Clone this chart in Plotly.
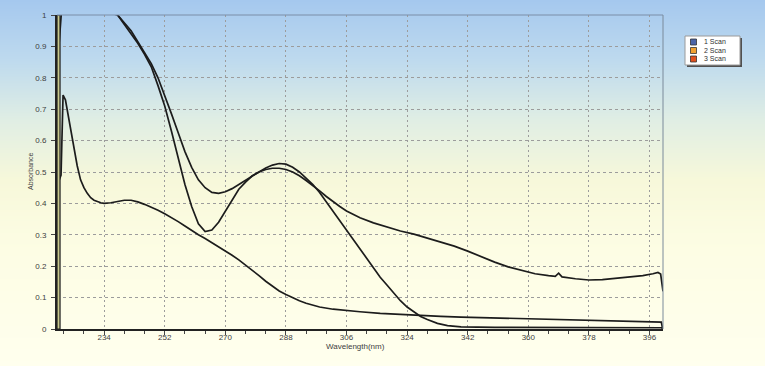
import base64
import struct
import zlib

import numpy as np
import plotly.graph_objects as go

# ---------------- data ----------------
scan_names = ["1 Scan", "2 Scan", "3 Scan"]
legend_colors = ["#4a64a8", "#f0a030", "#e0501e"]

wl_scan1 = [220.0, 220.1, 236, 238, 240, 242, 244, 246, 248, 250, 252, 254, 256, 258, 260,
            262, 264, 266, 268, 270, 272, 274, 276, 278, 280, 282, 284, 286, 288, 290,
            292, 294, 296, 298, 300, 302, 304, 306, 308, 310, 312, 314, 316, 318, 320,
            322, 324, 326, 328, 330, 333, 336, 340, 350, 360, 370, 380, 390, 399.6, 400]
abs_scan1 = [0.0, 1.05, 1.03, 1.0, 0.97, 0.94, 0.91, 0.875, 0.835, 0.775, 0.71, 0.63, 0.54, 0.46, 0.39,
             0.335, 0.31, 0.315, 0.34, 0.375, 0.41, 0.445, 0.468, 0.488, 0.5, 0.513, 0.522, 0.527, 0.525, 0.515,
             0.5, 0.48, 0.46, 0.435, 0.405, 0.375, 0.345, 0.315, 0.285, 0.255, 0.225, 0.195, 0.165, 0.14, 0.115,
             0.09, 0.07, 0.055, 0.04, 0.03, 0.018, 0.011, 0.007, 0.005, 0.005, 0.006, 0.005, 0.005, 0.004, 0.0]

wl_scan2 = [220.2, 221.3, 221.6, 238, 240, 242, 244, 246, 248, 250, 252, 254, 256, 258, 260,
            262, 264, 266, 268, 270, 272, 274, 276, 278, 280, 282, 284, 286, 288, 290,
            292, 294, 296, 298, 300, 302, 304, 306, 308, 310, 314, 318, 322, 326, 330,
            334, 338, 342, 346, 350, 354, 358, 362, 366, 368, 369, 370, 374, 378, 382,
            386, 390, 394, 397, 398.5, 399.3, 400]
abs_scan2 = [0.85, 1.0, 1.05, 1.0, 0.975, 0.95, 0.915, 0.88, 0.845, 0.8, 0.745, 0.685, 0.625, 0.565, 0.515,
             0.475, 0.45, 0.435, 0.432, 0.437, 0.447, 0.46, 0.475, 0.488, 0.5, 0.508, 0.512, 0.512, 0.508, 0.5,
             0.488, 0.473, 0.457, 0.44, 0.422, 0.405, 0.39, 0.376, 0.364, 0.354, 0.338, 0.325, 0.312, 0.302, 0.29,
             0.278, 0.264, 0.248, 0.23, 0.213, 0.198, 0.186, 0.176, 0.17, 0.168, 0.178, 0.166, 0.16, 0.156, 0.157,
             0.161, 0.165, 0.17, 0.176, 0.18, 0.175, 0.12]

wl_scan3 = [220.0, 220.5, 221.2, 221.8, 222.5, 223, 224, 225, 226, 227, 228, 229, 230, 231, 232,
            233, 234, 235, 236, 238, 240, 242, 244, 246, 248, 250, 252, 254, 256, 258,
            260, 262, 264, 266, 268, 270, 272, 274, 276, 278, 280, 282, 284, 286, 288,
            290, 292, 294, 296, 298, 302, 306, 310, 316, 322, 328, 334, 340, 350, 360,
            370, 380, 390, 398, 399.5, 399.9]
abs_scan3 = [0.0, 0.47, 0.49, 0.745, 0.73, 0.70, 0.64, 0.58, 0.52, 0.475, 0.45, 0.432, 0.418, 0.41, 0.405,
             0.402, 0.4, 0.4, 0.402, 0.406, 0.41, 0.41, 0.405, 0.397, 0.388, 0.378, 0.367, 0.355, 0.342, 0.328,
             0.313, 0.3, 0.288, 0.275, 0.262, 0.248, 0.235, 0.22, 0.204, 0.187, 0.17, 0.152, 0.136, 0.121, 0.11,
             0.099, 0.09, 0.082, 0.075, 0.07, 0.063, 0.058, 0.055, 0.05, 0.046, 0.043, 0.04, 0.038, 0.035, 0.033,
             0.03, 0.028, 0.025, 0.023, 0.022, 0.0]

x_tickvals = [234, 252, 270, 288, 306, 324, 342, 360, 378, 396]
y_tickvals = [0, 0.1, 0.2, 0.3, 0.4, 0.5, 0.6, 0.7, 0.8, 0.9, 1]
y_ticktext = ["0", "0.1", "0.2", "0.3", "0.4", "0.5", "0.6", "0.7", "0.8", "0.9", "1"]
x_range = [220, 400]
y_range = [0, 1]

# ---------------- layout geometry ----------------
W, H = 765, 366
ML, MR, MT, MB = 57, 102, 15, 37
PW, PH = W - ML - MR, H - MT - MB


def px_x(px):
    return (px - ML) / PW


def px_y(py):
    return (H - MB - py) / PH


# ---------------- gradient background image ----------------
def gradient_png(height, stops):
    ys = [s[0] for s in stops]
    rows = []
    for y in range(height):
        r = int(round(np.interp(y, ys, [s[1][0] for s in stops])))
        g = int(round(np.interp(y, ys, [s[1][1] for s in stops])))
        b = int(round(np.interp(y, ys, [s[1][2] for s in stops])))
        rows.append(b"\x00" + bytes([r, g, b]) * 4)
    raw = b"".join(rows)

    def chunk(tag, data):
        return (struct.pack(">I", len(data)) + tag + data
                + struct.pack(">I", zlib.crc32(tag + data) & 0xFFFFFFFF))

    png = (b"\x89PNG\r\n\x1a\n"
           + chunk(b"IHDR", struct.pack(">IIBBBBB", 4, height, 8, 2, 0, 0, 0))
           + chunk(b"IDAT", zlib.compress(raw, 9))
           + chunk(b"IEND", b""))
    return "data:image/png;base64," + base64.b64encode(png).decode()


bg_stops = [(0, (165, 200, 238)), (60, (190, 218, 238)), (120, (224, 238, 228)),
            (180, (247, 248, 218)), (250, (253, 253, 228)), (366, (255, 255, 238))]
bg_uri = gradient_png(H, bg_stops)

# ---------------- figure ----------------
fig = go.Figure()
line_color = "#1c1c1c"
for name, xs, ys in [(scan_names[0], wl_scan1, abs_scan1),
                     (scan_names[1], wl_scan2, abs_scan2),
                     (scan_names[2], wl_scan3, abs_scan3)]:
    fig.add_trace(go.Scatter(x=xs, y=ys, mode="lines", name=name, showlegend=False,
                             line=dict(color=line_color, width=1.7), hoverinfo="skip"))

font_family = "Liberation Sans, Arial, sans-serif"
grid_color = "#9c9c9c"

fig.update_layout(
    width=W, height=H,
    margin=dict(l=ML, r=MR, t=MT, b=MB),
    paper_bgcolor="rgba(0,0,0,0)",
    plot_bgcolor="rgba(0,0,0,0)",
    font=dict(family=font_family, size=8, color="#404040"),
    showlegend=False,
    images=[dict(source=bg_uri, xref="paper", yref="paper",
                 x=-ML / PW, y=1 + MT / PH, sizex=W / PW, sizey=H / PH,
                 xanchor="left", yanchor="top", sizing="stretch", layer="below")],
    xaxis=dict(range=x_range, tickvals=x_tickvals, showgrid=True, gridcolor=grid_color,
               griddash="2px,3px", gridwidth=1, zeroline=False,
               showline=True, linecolor="#222222", linewidth=2,
               ticks="outside", ticklen=4, tickcolor="#444444",
               ticklabelstandoff=-5,
               tickfont=dict(size=8, color="#404040"),
               minor=dict(dtick=6, tick0=234, ticks="outside", ticklen=3,
                          tickcolor="#444444", showgrid=False)),
    yaxis=dict(range=y_range, tickvals=y_tickvals, ticktext=y_ticktext, showgrid=True,
               gridcolor=grid_color, griddash="3px,3px", gridwidth=1, zeroline=False,
               showline=True, linecolor="#222222", linewidth=2,
               ticks="outside", ticklen=4, tickcolor="#444444",
               ticklabelstandoff=3,
               tickfont=dict(size=8, color="#404040")),
)

shapes = []
# olive strip at left edge
shapes.append(dict(type="rect", xref="x", yref="y", x0=x_range[0], x1=x_range[0] + 0.9,
                   y0=y_range[0], y1=y_range[1], fillcolor="#c9c98c",
                   line=dict(color="#1e1e1e", width=1.2), layer="above"))
# top and right borders
shapes.append(dict(type="line", xref="paper", yref="paper", x0=0, x1=1, y0=1, y1=1,
                   line=dict(color="#7a8ea8", width=1)))
shapes.append(dict(type="line", xref="paper", yref="paper", x0=1, x1=1, y0=0, y1=1,
                   line=dict(color="#7a8a9a", width=1)))

# legend box (manual)
lx0, lx1, ly0, ly1 = 685, 740, 36, 65
shapes.append(dict(type="rect", xref="paper", yref="paper",
                   x0=px_x(lx0 + 2), x1=px_x(lx1 + 2), y0=px_y(ly1 + 2), y1=px_y(ly0 + 2),
                   fillcolor="#505050", line=dict(width=0)))
shapes.append(dict(type="rect", xref="paper", yref="paper",
                   x0=px_x(lx0), x1=px_x(lx1), y0=px_y(ly1), y1=px_y(ly0),
                   fillcolor="#ffffff", line=dict(color="#9a9a9a", width=1)))
annotations = []
row_y = [42.0, 50.5, 59.0]
for i, name in enumerate(scan_names):
    cy = row_y[i]
    shapes.append(dict(type="rect", xref="paper", yref="paper",
                       x0=px_x(690.5), x1=px_x(696.5), y0=px_y(cy + 3), y1=px_y(cy - 3),
                       fillcolor=legend_colors[i], line=dict(color="#333333", width=0.8)))
    annotations.append(dict(text=name, xref="paper", yref="paper", x=px_x(702), y=px_y(cy),
                            xanchor="left", yanchor="middle", showarrow=False,
                            font=dict(size=7, color="#303030", family=font_family)))

# axis titles
annotations.append(dict(text="Wavelength(nm)", xref="paper", yref="paper",
                        x=px_x(355), y=px_y(346), xanchor="center", yanchor="middle",
                        showarrow=False, font=dict(size=8, color="#404040", family=font_family)))
annotations.append(dict(text="Absorbance", xref="paper", yref="paper",
                        x=px_x(30), y=px_y(172), xanchor="center", yanchor="middle",
                        textangle=-90, showarrow=False,
                        font=dict(size=7, color="#404040", family=font_family)))

fig.update_layout(shapes=shapes, annotations=annotations)
fig.write_html("out.html", config={"displayModeBar": False},
               post_script="document.body.style.margin='0';")
